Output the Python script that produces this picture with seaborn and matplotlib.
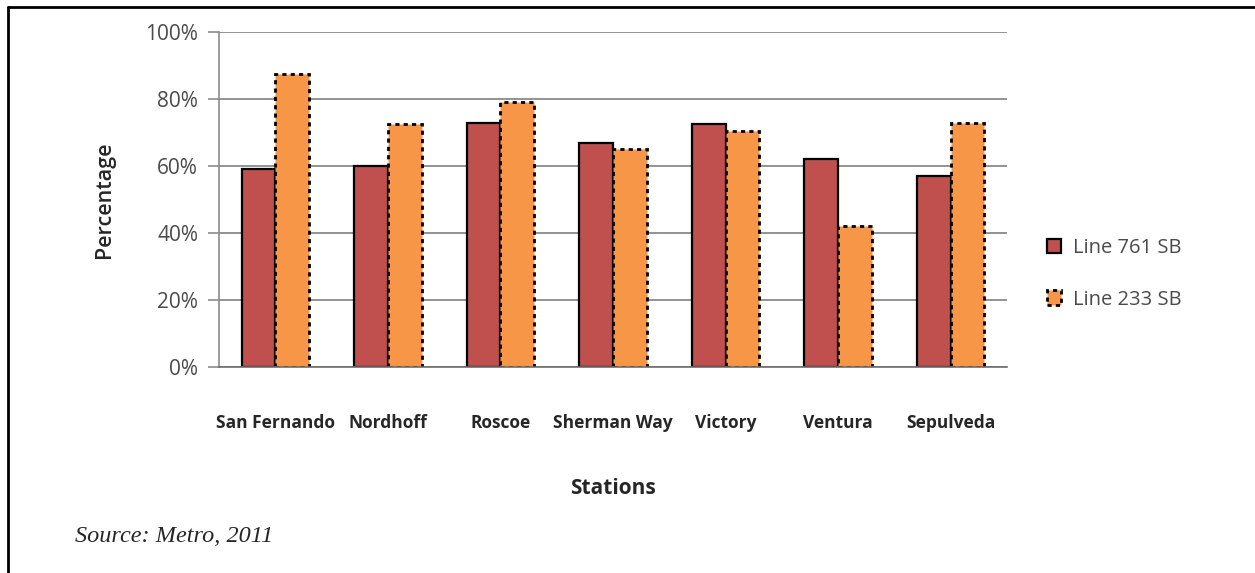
import matplotlib.pyplot as plt
from matplotlib.lines import Line2D
from matplotlib.patches import Patch
from matplotlib.ticker import FuncFormatter
import pandas as pd
import seaborn as sns

STATIONS = ["San Fernando", "Nordhoff", "Roscoe", "Sherman Way", "Victory", "Ventura", "Sepulveda"]
LINE_761 = [59, 60, 73, 67, 72.5, 62, 57]
LINE_233 = [87.5, 72.5, 79, 65, 70.5, 42, 73]
SERIES = ["Line 761 SB", "Line 233 SB"]
Y_TICKS = [0, 20, 40, 60, 80, 100]

RED = "#C0504D"
ORANGE = "#F79646"
TEXT = "#262626"
TICK_TEXT = "#4A4A4A"

df = pd.DataFrame({
    "station": STATIONS * 2,
    "pct": LINE_761 + LINE_233,
    "line": [SERIES[0]] * len(STATIONS) + [SERIES[1]] * len(STATIONS),
})

sns.set_theme(style="white")
plt.rcParams["font.family"] = ["Open Sans", "DejaVu Sans"]

fig = plt.figure(figsize=(12.55, 5.73), dpi=100)
ax = fig.add_axes([0.1745, 0.3595, 0.6279, 0.5845])

sns.barplot(
    data=df, x="station", y="pct", hue="line",
    palette={SERIES[0]: RED, SERIES[1]: ORANGE},
    width=0.6, saturation=1, edgecolor="black", linewidth=1.6,
    legend=False, ax=ax,
)
for bar in ax.containers[1]:
    bar.set_linestyle((0, (1.5, 1.5)))
    bar.set_linewidth(2.0)

ax.set_xlim(-0.5, len(STATIONS) - 0.5)
ax.set_ylim(0, 100)
ax.set_yticks(Y_TICKS)
ax.yaxis.set_major_formatter(FuncFormatter(lambda v, _: f"{v:.0f}%"))
ax.grid(axis="y", color="#808080", linewidth=1.2)
ax.set_axisbelow(True)
for side in ["top", "right"]:
    ax.spines[side].set_visible(False)
ax.spines["left"].set_color("#8C8C8C")
ax.spines["bottom"].set_color("#6E6E6E")
ax.spines["left"].set_linewidth(1.2)
ax.spines["bottom"].set_linewidth(1.2)
ax.tick_params(axis="y", which="major", left=True, length=8, width=1.2,
               color="#8C8C8C", labelsize=15, labelcolor=TICK_TEXT, pad=7)
ax.tick_params(axis="x", bottom=False, labelsize=12.5, labelcolor=TEXT, pad=28)
for lbl in ax.get_xticklabels():
    lbl.set_fontweight("bold")

ax.set_xlabel("Stations", fontsize=15, fontweight="bold", color=TEXT, labelpad=33)
ax.set_ylabel("Percentage", fontsize=15.5, fontweight="semibold", color=TEXT, labelpad=22)

handles = [
    Patch(facecolor=RED, edgecolor="black", linewidth=1.6),
    Patch(facecolor=ORANGE, edgecolor="black", linewidth=2.0, linestyle=(0, (1.5, 1.5))),
]
fig.legend(
    handles, SERIES, loc="center left", bbox_to_anchor=(0.82, 0.522),
    frameon=False, fontsize=14.5, labelspacing=1.55, handlelength=0.7,
    handleheight=0.7, handletextpad=0.6, labelcolor=TICK_TEXT,
)

fig.text(0.06, 0.063, "Source: Metro, 2011", fontsize=17.5, style="italic",
         family="Liberation Serif", color=TEXT, va="center")

# frame lines on the top and left edge of the scanned figure
fig.add_artist(Line2D([0.0064, 1.0], [0.988, 0.988], transform=fig.transFigure,
                      color="black", linewidth=2.0))
fig.add_artist(Line2D([0.0064, 0.0064], [0.0, 0.988], transform=fig.transFigure,
                      color="black", linewidth=2.0))

fig.savefig("out.png", dpi=100, facecolor="white")
